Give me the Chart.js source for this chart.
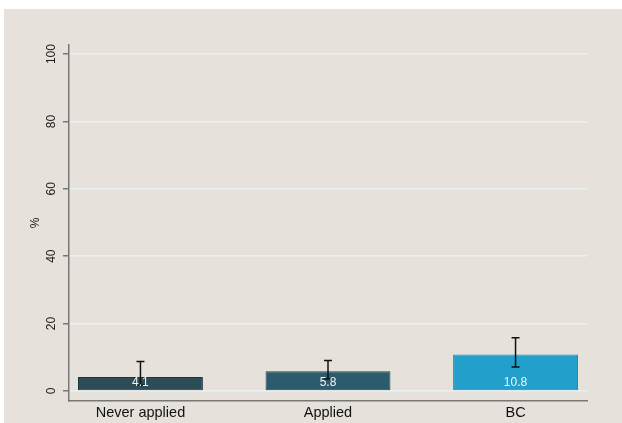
<!DOCTYPE html>
<html>
<head>
<meta charset="utf-8">
<script src="https://cdn.jsdelivr.net/npm/chart.js@4/dist/chart.umd.min.js"></script>
<style>
  html, body { margin: 0; padding: 0; background: #ffffff; }
  canvas { display: block; }
</style>
</head>
<body>
<canvas id="chart" width="622" height="423"></canvas>
<script>
// Share (%) by application status, with confidence intervals
const categories = ['Never applied', 'Applied', 'BC'];
const pctValues = [4.1, 5.8, 10.8];
const ciLow = [1.7, 3.5, 7.1];
const ciHigh = [8.7, 9.0, 15.8];
const yTicks = [0, 20, 40, 60, 80, 100];

const barFill = ['#2d4c56', '#2c5b6b', '#22a0cb'];
const barEdge = ['#1d363e', '#1c4757', '#1b8db6'];
const FONT = '"Liberation Sans", Arial, Helvetica, sans-serif';

const panelBackground = {
  id: 'panelBackground',
  beforeDraw(chart) {
    const { ctx, width, height } = chart;
    ctx.save();
    ctx.fillStyle = '#ffffff';
    ctx.fillRect(0, 0, width, height);
    ctx.fillStyle = '#e6e2db';
    ctx.fillRect(4, 9, width - 4, height - 9);
    ctx.restore();
  }
};

// Confidence-interval whiskers and value labels inside the bars
const barExtras = {
  id: 'barExtras',
  afterDatasetsDraw(chart) {
    const { ctx } = chart;
    const yScale = chart.scales.y;
    const meta = chart.getDatasetMeta(0);
    ctx.save();
    ctx.strokeStyle = '#111111';
    ctx.lineWidth = 1.5;
    meta.data.forEach((bar, i) => {
      const x = bar.x;
      const yLo = yScale.getPixelForValue(ciLow[i]);
      const yHi = yScale.getPixelForValue(ciHigh[i]);
      ctx.beginPath();
      ctx.moveTo(x, yLo);
      ctx.lineTo(x, yHi);
      ctx.moveTo(x - 4, yLo);
      ctx.lineTo(x + 4, yLo);
      ctx.moveTo(x - 4, yHi);
      ctx.lineTo(x + 4, yHi);
      ctx.stroke();
    });
    ctx.fillStyle = '#f4f4f4';
    ctx.font = '12px ' + FONT;
    ctx.textAlign = 'center';
    ctx.textBaseline = 'middle';
    const base = yScale.getPixelForValue(0);
    meta.data.forEach((bar, i) => {
      ctx.fillText(pctValues[i].toFixed(1), bar.x, base - 8);
    });
    ctx.restore();
  },
  afterDraw(chart) {
    const { ctx, chartArea } = chart;
    const yScale = chart.scales.y;
    ctx.save();
    ctx.fillStyle = '#1a1a1a';
    ctx.font = '12px ' + FONT;
    ctx.textAlign = 'center';
    ctx.textBaseline = 'middle';
    yTicks.forEach(v => {
      ctx.save();
      ctx.translate(52, yScale.getPixelForValue(v));
      ctx.rotate(-Math.PI / 2);
      ctx.fillText(String(v), 0, 0);
      ctx.restore();
    });
    ctx.save();
    ctx.translate(36, (chartArea.top + chartArea.bottom) / 2);
    ctx.rotate(-Math.PI / 2);
    ctx.fillText('%', 0, 0);
    ctx.restore();
    ctx.restore();
  }
};

new Chart(document.getElementById('chart'), {
  type: 'bar',
  data: {
    datasets: [{
      data: pctValues.map((v, i) => ({ x: i, y: v })),
      backgroundColor: barFill,
      borderColor: barEdge,
      borderWidth: 1,
      borderSkipped: false,
      barPercentage: 0.666,
      categoryPercentage: 1
    }]
  },
  options: {
    responsive: false,
    animation: false,
    layout: { padding: { top: 45, right: 35, left: 0, bottom: 0 } },
    plugins: { legend: { display: false }, tooltip: { enabled: false } },
    scales: {
      x: {
        type: 'linear',
        offset: false,
        min: -0.381,
        max: 2.381,
        afterBuildTicks: s => { s.ticks = categories.map((c, i) => ({ value: i })); },
        afterFit: s => { s.height = 22; },
        ticks: {
          callback: v => categories[v],
          font: { size: 14.5, family: FONT },
          color: '#111111',
          padding: 3,
          autoSkip: false,
          maxRotation: 0,
          minRotation: 0
        },
        grid: { display: false, drawTicks: false, offset: false },
        border: { display: true, color: '#777777', width: 1.5 }
      },
      y: {
        min: -3,
        max: 102.7,
        afterBuildTicks: s => { s.ticks = yTicks.map(v => ({ value: v })); },
        afterFit: s => { s.width = 69; },
        ticks: { display: false },
        grid: { color: '#eaf1f3', lineWidth: 1.5, tickColor: '#777777', tickLength: 6, drawTicks: true },
        border: { display: true, color: '#777777', width: 1.5 }
      }
    }
  },
  plugins: [panelBackground, barExtras]
});
</script>
</body>
</html>
